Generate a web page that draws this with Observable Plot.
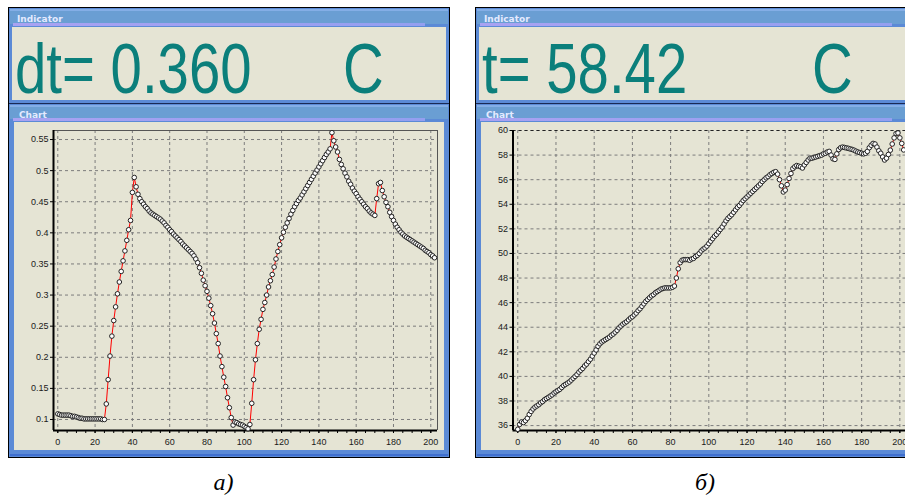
<!DOCTYPE html>
<html><head><meta charset="utf-8">
<script src="https://cdn.jsdelivr.net/npm/d3@7"></script>
<script src="https://cdn.jsdelivr.net/npm/@observablehq/plot@0.6"></script>
<style>
html,body{margin:0;padding:0;}
body{width:905px;height:495px;overflow:hidden;background:#fff;position:relative;}
#root{position:absolute;left:0;top:0;width:905px;height:495px;overflow:hidden;}
.a{position:absolute;}
.ttl{font:bold 9px "DejaVu Sans",sans-serif;color:#e4eaff;line-height:10px;white-space:nowrap;}
.big{font-family:"Liberation Sans",Arial,sans-serif;font-size:70px;line-height:70px;color:#0b7f7b;transform:scaleX(0.805);transform-origin:0 0;white-space:nowrap;}
.cap{font:italic 24px "Liberation Serif","Times New Roman",serif;line-height:24px;color:#000;text-align:center;width:60px;}
.holder svg{max-width:none !important;}
</style></head><body><div id="root"></div>
<script>
// ---------- data ----------
const xTicks = [0, 20, 40, 60, 80, 100, 120, 140, 160, 180, 200];
const xMinorTicks = [0,5,10,15,20,25,30,35,40,45,50,55,60,65,70,75,80,85,90,95,100,105,110,115,120,125,130,135,140,145,150,155,160,165,170,175,180,185,190,195,200];
const yTicksA = [0.1, 0.15, 0.2, 0.25, 0.3, 0.35, 0.4, 0.45, 0.5, 0.55];
const yTicksB = [36, 38, 40, 42, 44, 46, 48, 50, 52, 54, 56, 58, 60];

// panel а): dt, samples 0..202
const dtValues = [
0.109,0.108,0.107,0.107,0.107,0.107,0.107,0.106,0.105,0.105,
0.104,0.103,0.102,0.102,0.101,0.101,0.101,0.101,0.101,0.101,
0.101,0.101,0.101,0.101,0.100,0.100,0.125,0.164,0.202,0.234,
0.259,0.281,0.302,0.321,0.338,0.355,0.371,0.388,0.405,0.420,
0.465,0.489,0.474,0.462,0.455,0.450,0.446,0.442,0.439,0.435,
0.432,0.430,0.428,0.426,0.424,0.422,0.419,0.416,0.412,0.409,
0.405,0.402,0.398,0.395,0.392,0.389,0.386,0.382,0.379,0.376,
0.373,0.370,0.367,0.363,0.358,0.352,0.344,0.335,0.324,0.315,
0.306,0.295,0.283,0.270,0.255,0.238,0.222,0.202,0.185,0.168,
0.153,0.135,0.119,0.103,0.091,0.096,0.095,0.093,0.092,0.091,
0.089,0.087,0.085,0.092,0.126,0.164,0.196,0.222,0.245,0.261,
0.277,0.288,0.300,0.313,0.323,0.333,0.345,0.358,0.370,0.381,
0.392,0.401,0.409,0.416,0.423,0.430,0.436,0.442,0.447,0.452,
0.456,0.461,0.466,0.471,0.476,0.481,0.486,0.491,0.496,0.501,
0.506,0.511,0.516,0.521,0.526,0.530,0.535,0.561,0.548,0.538,
0.530,0.518,0.510,0.503,0.496,0.490,0.483,0.478,0.472,0.467,
0.463,0.458,0.454,0.450,0.446,0.442,0.439,0.435,0.432,0.430,
0.428,0.455,0.479,0.481,0.468,0.458,0.449,0.442,0.433,0.426,
0.420,0.414,0.409,0.405,0.401,0.398,0.395,0.393,0.391,0.389,
0.387,0.385,0.383,0.381,0.379,0.377,0.375,0.372,0.370,0.368,
0.365,0.363,0.360
];

// panel б): t, samples 0..202
const tValues = [
35.7,36.1,36.3,36.25,36.4,36.6,36.9,37.15,37.35,37.5,
37.6,37.7,37.85,37.95,38.1,38.2,38.3,38.4,38.5,38.65,
38.75,38.85,38.95,39.1,39.25,39.35,39.45,39.55,39.7,39.85,
40.0,40.15,40.35,40.5,40.65,40.85,41.0,41.2,41.4,41.65,
41.9,42.15,42.45,42.65,42.8,42.9,43.0,43.1,43.2,43.35,
43.45,43.6,43.75,43.95,44.1,44.25,44.35,44.45,44.6,44.75,
44.85,45.0,45.15,45.35,45.5,45.7,45.9,46.1,46.25,46.4,
46.55,46.65,46.8,46.9,47.0,47.1,47.15,47.2,47.2,47.2,
47.2,47.25,47.35,48.0,48.75,49.25,49.45,49.5,49.5,49.5,
49.45,49.55,49.6,49.75,49.85,50.0,50.2,50.35,50.45,50.6,
50.8,51.0,51.2,51.4,51.55,51.75,51.95,52.15,52.4,52.65,
52.85,53.0,53.15,53.35,53.55,53.75,53.9,54.1,54.3,54.45,
54.6,54.75,54.9,55.05,55.2,55.35,55.5,55.65,55.85,56.0,
56.15,56.25,56.4,56.5,56.6,56.65,56.45,56.0,55.5,55.0,
55.15,55.6,56.1,56.5,56.9,57.05,57.15,57.1,57.05,56.95,
57.2,57.4,57.6,57.75,57.75,57.8,57.85,57.9,57.95,58.0,
58.1,58.15,58.25,58.3,58.0,57.7,57.65,58.1,58.45,58.6,
58.65,58.62,58.58,58.55,58.5,58.46,58.4,58.32,58.25,58.2,
58.15,58.1,58.15,58.3,58.6,58.8,58.95,58.9,58.65,58.35,
58.15,57.85,57.6,57.75,58.05,58.4,58.9,59.4,59.75,59.8,
59.4,58.95,58.42
];

const indicatorA = {label: "dt= 0.360", unit: "C"};
const indicatorB = {label: "t= 58.42", unit: "C"};
const captions = ["а)", "б)"];

// ---------- chrome ----------
const root = document.getElementById("root");
function box(x, y, w, h, bg) {
  const d = document.createElement("div");
  d.className = "a";
  d.style.left = x + "px"; d.style.top = y + "px";
  d.style.width = w + "px"; d.style.height = h + "px";
  d.style.background = bg;
  root.appendChild(d);
  return d;
}
function text(cls, x, y, s) {
  const d = document.createElement("div");
  d.className = "a " + cls;
  d.style.left = x + "px"; d.style.top = y + "px";
  d.textContent = s;
  root.appendChild(d);
  return d;
}

function chart(values, o) {
  const data = values.map((v, i) => ({x: i, y: v}));
  return Plot.plot({
    width: o.width, height: 328,
    marginLeft: o.marginLeft, marginRight: 8, marginTop: 8, marginBottom: 20,
    style: {background: "transparent", fontFamily: "'Liberation Sans', Arial, sans-serif", fontSize: "9px", color: "#1a1a1a", overflow: "visible"},
    x: {type: "linear", domain: o.xDomain, label: null},
    y: {type: "linear", domain: o.yDomain, label: null},
    marks: [
      Plot.gridX(xTicks, {stroke: "#7c7c7c", strokeOpacity: 1, strokeDasharray: "3,3"}),
      Plot.gridY(o.yTicks, {stroke: "#7c7c7c", strokeOpacity: 1, strokeDasharray: "3,3"}),
      Plot.ruleY([o.yDomain[1]], {stroke: o.topColor, strokeWidth: 1, strokeDasharray: o.topDash}),
      Plot.ruleX([o.xDomain[1]], {stroke: "#555", strokeWidth: 1}),
      Plot.axisX(xMinorTicks, {tickSize: 3, tickFormat: () => "", stroke: "#000", label: null}),
      Plot.axisX(xTicks, {tickSize: 3, tickPadding: 5, tickFormat: d => String(d), stroke: "#000", label: null}),
      Plot.axisY(o.yTicks, {tickSize: 3, tickPadding: 2, tickFormat: o.yFormat, stroke: "#000", label: null}),
      Plot.ruleY([o.yDomain[0]], {stroke: "#000", strokeWidth: 2}),
      Plot.ruleX([o.xDomain[0]], {stroke: "#000", strokeWidth: 2}),
      Plot.line(data, {x: "x", y: "y", stroke: "#ff0000", strokeWidth: 1}),
      Plot.dot(data, {x: "x", y: "y", r: 2.3, fill: "#ffffff", stroke: "#222", strokeWidth: 1})
    ]
  });
}

function panel(x0, ind, valueLeft, unitLeft, svg, svgWidth) {
  const W = 442;
  box(x0, 7, W, 451, "#000");
  // Indicator window
  box(x0 + 1, 8, W - 2, 95, "#5b8ad6");
  box(x0 + 2, 9, W - 4, 2, "#84aee6");
  box(x0 + 2, 11, W - 4, 13, "#6a9ed3");
  box(x0 + 5, 23, W - 30, 3, "linear-gradient(90deg,#a9a2f2,#939ff0)");
  text("ttl", x0 + 9, 14, "Indicator");
  box(x0 + 4, 27, W - 8, 73, "#e5e4d4");
  text("big", valueLeft, 34, ind.label);
  text("big", unitLeft, 34, ind.unit);
  box(x0 + 1, 103, W - 2, 1, "#1a2a55");
  // Chart window
  box(x0 + 1, 104, W - 2, 353, "#5b8ad6");
  box(x0 + 2, 105, W - 4, 2, "#84aee6");
  box(x0 + 2, 107, W - 4, 12, "#6a9ed3");
  box(x0 + 5, 118, W - 30, 3, "linear-gradient(90deg,#a9a2f2,#939ff0)");
  text("ttl", x0 + 11, 110, "Chart");
  box(x0 + 6, 122, W - 12, 328, "#e5e4d4");
  box(x0 + 2, 454, W - 4, 2, "#3f6fcf");
  const holder = document.createElement("div");
  holder.className = "a holder";
  holder.style.left = (x0 + 6) + "px";
  holder.style.top = "122px";
  holder.style.width = svgWidth + "px";
  holder.style.height = "328px";
  svg.style.maxWidth = "none";
  holder.appendChild(svg);
  root.appendChild(holder);
}

const fmtA = d => String(+d.toFixed(2));
const svgA = chart(dtValues, {width: 431, marginLeft: 39, xDomain: [-2.3, 203.6], yDomain: [0.0823, 0.5645], yTicks: yTicksA, yFormat: fmtA, topColor: "#555", topDash: null});
const svgB = chart(tValues, {width: 434, marginLeft: 31.5, xDomain: [-2.5, 204], yDomain: [35.6, 60], yTicks: yTicksB, yFormat: d => String(d), topColor: "#222", topDash: "3,3"});

panel(8, indicatorA, 14.8, 343.2, svgA, 431);
panel(475, indicatorB, 482, 812.2, svgB, 434);

text("cap", 193.5, 469.5, captions[0]);
text("cap", 675, 469.5, captions[1]);
</script>
</body></html>
